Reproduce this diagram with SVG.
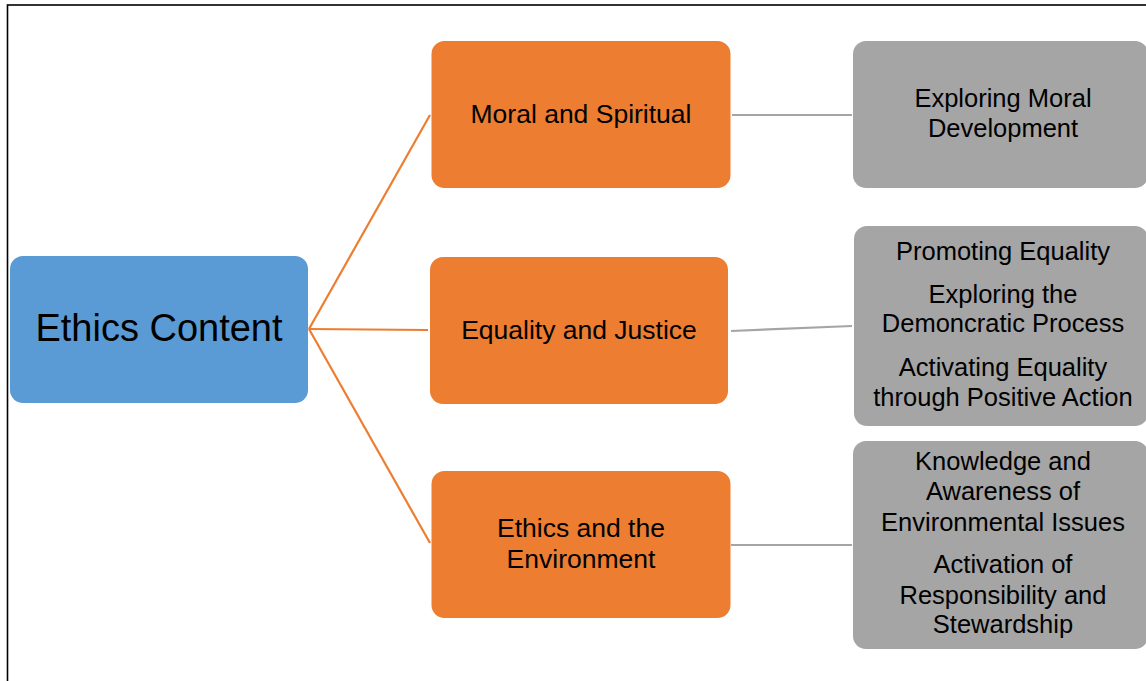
<svg xmlns="http://www.w3.org/2000/svg" width="1146" height="681" viewBox="0 0 1146 681">
<style>
.frame{fill:none;stroke:#000;stroke-width:1.6}
.root{fill:#5B9BD5}
.mid{fill:#ED7D31}
.leaf{fill:#A5A5A5}
.c1{stroke:#ED7D31;stroke-width:2.2;fill:none}
.c2{stroke:#A5A5A5;stroke-width:2.2;fill:none}
text{font-family:"Liberation Sans",Arial,sans-serif;fill:#000;text-anchor:middle}
.t1{font-size:38px}
.t2{font-size:26.5px}
.t3{font-size:25.5px}
</style>
<rect width="1146" height="681" fill="#fff"/>
<rect class="frame" x="7.5" y="5" width="1150" height="690"/>
<g id="connectors">
<path class="c1" d="M309,329 L430,115"/>
<path class="c1" d="M309,329 L428,330"/>
<path class="c1" d="M309,329 L430,543"/>
<path class="c2" d="M732,115 L852,115"/>
<path class="c2" d="M731,331 L852,326"/>
<path class="c2" d="M731,545 L852,545"/>
</g>
<g id="ethics-content">
<rect class="root" x="10" y="256" width="298" height="147" rx="13"/>
<text class="t1" x="159" y="341">Ethics Content</text>
</g>
<g id="moral-spiritual">
<rect class="mid" x="431.5" y="41" width="299" height="147" rx="13"/>
<text class="t2" x="581" y="123">Moral and Spiritual</text>
</g>
<g id="equality-justice">
<rect class="mid" x="430" y="257" width="298" height="147" rx="13"/>
<text class="t2" x="579" y="339">Equality and Justice</text>
</g>
<g id="ethics-environment">
<rect class="mid" x="431.5" y="471" width="299" height="147" rx="13"/>
<text class="t2" x="581" y="537">Ethics and the</text>
<text class="t2" x="581" y="568">Environment</text>
</g>
<g id="exploring-moral">
<rect class="leaf" x="853" y="41" width="295" height="147" rx="13"/>
<text class="t3" x="1003" y="107">Exploring Moral</text>
<text class="t3" x="1003" y="137">Development</text>
</g>
<g id="equality-items">
<rect class="leaf" x="854" y="226" width="294" height="200" rx="13"/>
<text class="t3" x="1003" y="260">Promoting Equality</text>
<text class="t3" x="1003" y="303">Exploring the</text>
<text class="t3" x="1003" y="332">Demoncratic Process</text>
<text class="t3" x="1003" y="376">Activating Equality</text>
<text class="t3" x="1003" y="406">through Positive Action</text>
</g>
<g id="environment-items">
<rect class="leaf" x="853" y="441" width="295" height="208" rx="13"/>
<text class="t3" x="1003" y="470">Knowledge and</text>
<text class="t3" x="1003" y="500">Awareness of</text>
<text class="t3" x="1003" y="531">Environmental Issues</text>
<text class="t3" x="1003" y="573">Activation of</text>
<text class="t3" x="1003" y="604">Responsibility and</text>
<text class="t3" x="1003" y="633">Stewardship</text>
</g>
</svg>
